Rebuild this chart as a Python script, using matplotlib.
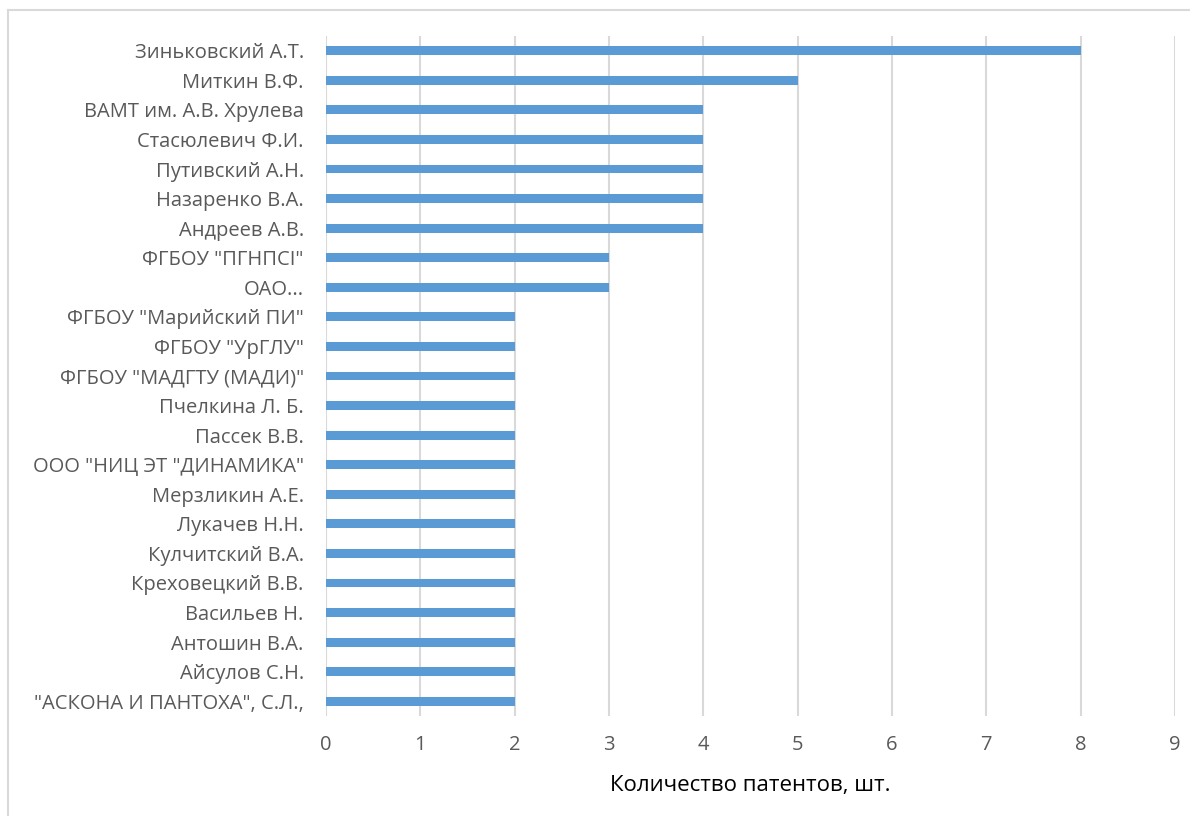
import matplotlib
matplotlib.use('Agg')
import matplotlib.pyplot as plt
from matplotlib.lines import Line2D

plt.rcParams['font.family'] = ['Open Sans', 'DejaVu Sans']

# data, top to bottom as in the picture
names = ['Зиньковский А.Т.', 'Миткин В.Ф.', 'ВАМТ им. А.В. Хрулева',
         'Стасюлевич Ф.И.', 'Путивский А.Н.', 'Назаренко В.А.',
         'Андреев А.В.', 'ФГБОУ "ПГНПСІ"', 'ОАО...',
         'ФГБОУ "Марийский ПИ"', 'ФГБОУ "УрГЛУ"', 'ФГБОУ "МАДГТУ (МАДИ)"',
         'Пчелкина Л. Б.', 'Пассек В.В.', 'ООО "НИЦ ЭТ "ДИНАМИКА"',
         'Мерзликин А.Е.', 'Лукачев Н.Н.', 'Кулчитский В.А.',
         'Креховецкий В.В.', 'Васильев Н.', 'Антошин В.А.',
         'Айсулов С.Н.', '"АСКОНА И ПАНТОХА", С.Л.,']
counts = [8, 5, 4, 4, 4, 4, 4, 3, 3, 2, 2, 2, 2, 2, 2, 2, 2, 2, 2, 2, 2, 2, 2]
xticks = list(range(10))

fig = plt.figure(figsize=(11.9, 8.16), dpi=100)
ax = fig.add_axes([326/1190, 1-716/816, (1175-326)/1190, (716-36)/816])

pos = list(range(len(names)))[::-1]
ax.barh(pos, counts, height=0.3, color='#5b9bd5', zorder=3)
ax.set_ylim(-0.5, len(names)-0.5)
ax.set_xlim(0, 9)
ax.set_xticks(xticks)
ax.set_yticks(pos)
ax.set_yticklabels(names)
ax.tick_params(axis='y', length=0, pad=16, labelsize=14.5, labelcolor='#595959')
ax.tick_params(axis='x', length=0, pad=14, labelsize=14.5, labelcolor='#595959')
ax.grid(axis='x', color='#d9d9d9', linewidth=1.5, zorder=0)
for s in ax.spines.values():
    s.set_visible(False)
ax.set_xlabel('Количество патентов, шт.', fontsize=16, color='black', labelpad=14)

# chart frame
fig.add_artist(Line2D([8/1190, 1], [1-10/816, 1-10/816], color='#d9d9d9', lw=1.5))
fig.add_artist(Line2D([8/1190, 8/1190], [0, 1-10/816], color='#d9d9d9', lw=1.5))

fig.savefig('out.png', dpi=100)
